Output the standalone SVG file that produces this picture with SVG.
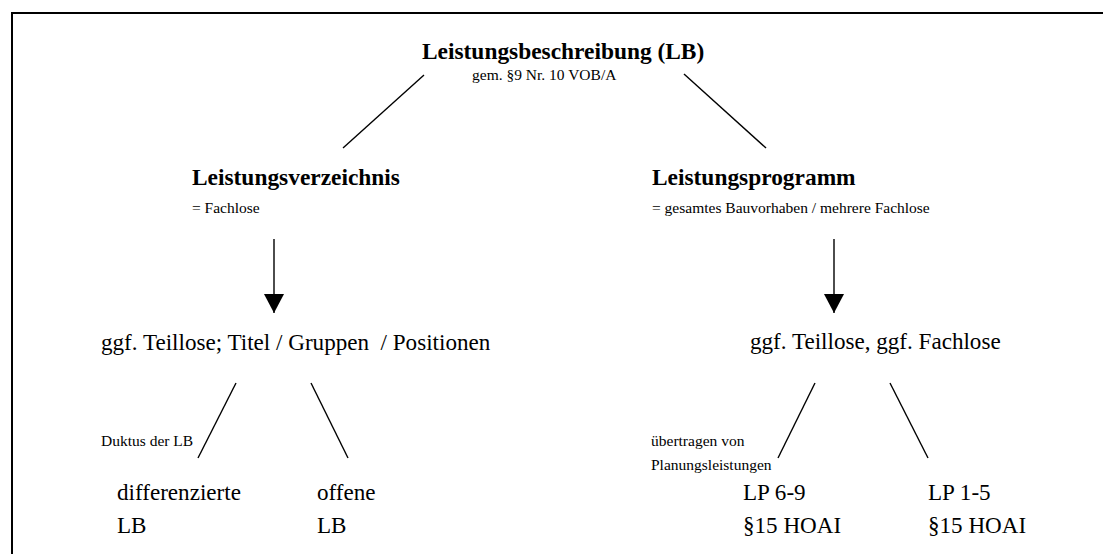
<svg xmlns="http://www.w3.org/2000/svg" width="1103" height="554" viewBox="0 0 1103 554">
  <style>
    text { font-family: "Liberation Serif", "Times New Roman", serif; fill: #000; }
    .head { font-size: 23.4px; font-weight: bold; }
    .body { font-size: 23.1px; }
    .note { font-size: 15.5px; }
    .edge { stroke: #000; stroke-width: 1.4; fill: none; }
    .frame { stroke: #000; stroke-width: 2; fill: none; }
  </style>
  <defs>
    <marker id="tri" viewBox="0 0 19 20" refX="19" refY="10" markerWidth="19" markerHeight="20" markerUnits="userSpaceOnUse" orient="auto">
      <path d="M0,0 L19,10 L0,20 Z" fill="#000"/>
    </marker>
  </defs>

  <rect width="1103" height="554" fill="#fff"/>

  <!-- frame (open at right and bottom) -->
  <path class="frame" d="M12,554 L12,13 L1103,13"/>

  <g id="root">
    <text class="head" x="422" y="59">Leistungsbeschreibung (LB)</text>
    <text class="note" x="472" y="80">gem. §9 Nr. 10 VOB/A</text>
  </g>

  <g id="verzeichnis">
    <text class="head" x="192" y="185">Leistungsverzeichnis</text>
    <text class="note" x="192" y="213">= Fachlose</text>
  </g>

  <g id="programm">
    <text class="head" x="652" y="185">Leistungsprogramm</text>
    <text class="note" x="652" y="213">= gesamtes Bauvorhaben / mehrere Fachlose</text>
  </g>

  <g id="teillose-links">
    <text class="body" x="101" y="350" xml:space="preserve">ggf. Teillose; Titel / Gruppen  / Positionen</text>
  </g>

  <g id="teillose-rechts">
    <text class="body" x="750" y="349">ggf. Teillose, ggf. Fachlose</text>
  </g>

  <g id="differenzierte-lb">
    <text class="body" x="117" y="500">differenzierte</text>
    <text class="body" x="117" y="533">LB</text>
  </g>

  <g id="offene-lb">
    <text class="body" x="317" y="500">offene</text>
    <text class="body" x="317" y="533">LB</text>
  </g>

  <g id="lp-6-9">
    <text class="body" x="743" y="500">LP 6-9</text>
    <text class="body" x="743" y="533">§15 HOAI</text>
  </g>

  <g id="lp-1-5">
    <text class="body" x="928" y="500">LP 1-5</text>
    <text class="body" x="928" y="533">§15 HOAI</text>
  </g>

  <g id="connectors">
    <line class="edge" x1="424" y1="75" x2="343" y2="148"/>
    <line class="edge" x1="684" y1="74" x2="766" y2="148"/>
    <line class="edge" x1="274" y1="239" x2="274" y2="313" marker-end="url(#tri)"/>
    <line class="edge" x1="834" y1="239" x2="834" y2="313" marker-end="url(#tri)"/>
    <line class="edge" x1="236" y1="383" x2="198" y2="458"/>
    <line class="edge" x1="311" y1="383" x2="348" y2="458"/>
    <line class="edge" x1="815" y1="383" x2="778" y2="458"/>
    <line class="edge" x1="890" y1="383" x2="928" y2="458"/>
    <text class="note" x="101" y="446">Duktus der LB</text>
    <text class="note" x="651" y="446">übertragen von</text>
    <text class="note" x="651" y="470">Planungsleistungen</text>
  </g>
</svg>
